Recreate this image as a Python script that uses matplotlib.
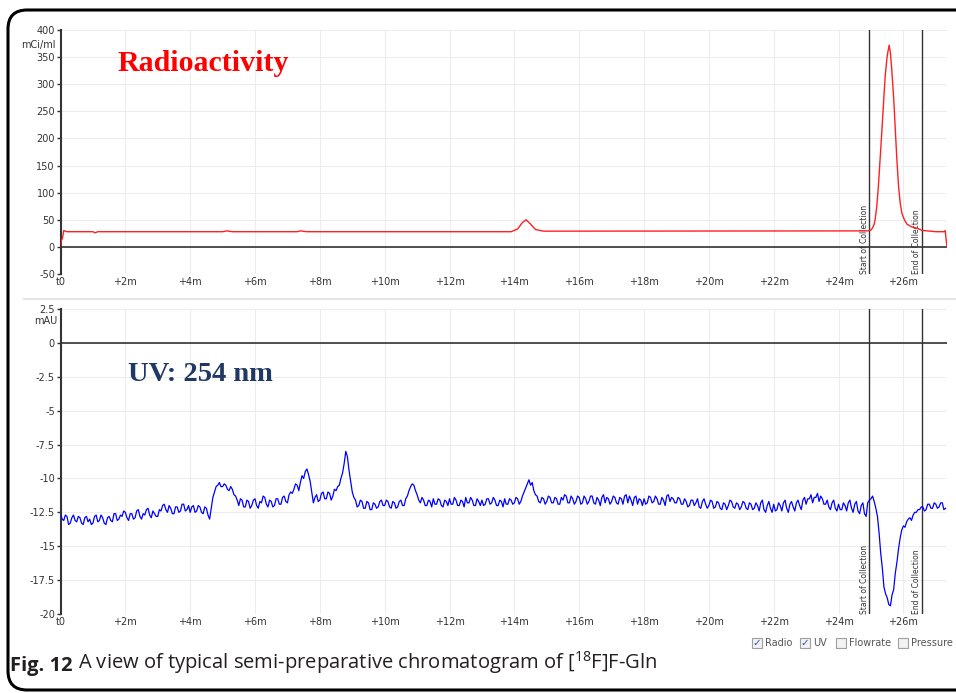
import matplotlib
matplotlib.use("Agg")
import matplotlib.pyplot as plt
from matplotlib.patches import FancyBboxPatch, Rectangle
from matplotlib.text import Annotation
import numpy as np

plt.rcParams['font.family'] = ['DejaVu Sans']
plt.rcParams['mathtext.fontset'] = 'custom'
plt.rcParams['mathtext.rm'] = 'Open Sans'
plt.rcParams['mathtext.it'] = 'Open Sans:italic'

# radioactivity trace (min, mCi/ml)
radio_t = [0, 0.03, 0.06, 0.1, 0.2, 1.0, 1.07, 1.15, 5.0, 5.13, 5.3, 7.3, 7.4, 7.6,
           13.9, 14.1, 14.25, 14.36, 14.5, 14.65, 14.9, 24.9, 25.0, 25.05, 25.1,
           25.13, 25.18, 25.23, 25.28, 25.34, 25.39, 25.44, 25.5, 25.56, 25.6,
           25.64, 25.7, 25.75, 25.8, 25.85, 25.9, 25.95, 26.03, 26.11, 26.25,
           26.42, 26.57, 27.0, 27.25, 27.29, 27.34]
radio_v = [0, 12, 16, 30, 28, 28, 26, 28, 28, 29.5, 28, 28, 29.5, 28,
           28, 33, 45, 50, 42, 32, 29, 29.5, 31, 35, 42,
           51, 75, 113, 160, 217, 268, 316, 352, 372, 358,
           328, 275, 217, 160, 113, 82, 63, 50, 42, 37,
           34.5, 30.5, 28, 28, 30, 2]

# UV trace, one value every 0.05 min from t0 (mAU)
uv_v = [
    -12.6, -13.0, -13.1, -12.7, -12.8, -13.4, -13.3, -12.9, -12.7, -13.1, -13.2, -12.8, -12.9, -13.3, -13.4, -12.9, -12.8, -13.2, -13.0, -13.4,
    -13.3, -12.8, -12.7, -13.2, -13.1, -12.7, -12.9, -13.3, -13.4, -12.9, -12.8, -13.1, -13.2, -12.6, -12.6, -13.1, -13.0, -12.7, -12.8, -12.4,
    -12.5, -12.9, -13.1, -12.6, -12.6, -13.0, -12.9, -12.4, -12.3, -12.8, -13.0, -12.6, -12.7, -12.3, -12.2, -12.7, -12.9, -12.4, -12.6, -12.8,
    -12.8, -12.3, -12.4, -12.0, -11.9, -12.3, -12.5, -12.0, -12.2, -12.6, -12.6, -12.1, -12.1, -12.5, -12.4, -11.9, -11.9, -12.4, -12.3, -12.0,
    -12.5, -12.1, -12.0, -12.5, -12.4, -12.0, -12.1, -12.5, -12.6, -12.1, -12.2, -12.7, -13.0, -12.2, -11.4, -11.0, -10.6, -10.5, -10.3, -10.6,
    -10.6, -10.4, -10.5, -10.8, -10.9, -10.6, -10.8, -11.2, -11.3, -11.6, -12.0, -11.5, -11.6, -12.1, -12.1, -11.6, -11.7, -12.2, -12.0, -11.6,
    -11.5, -12.0, -12.2, -11.7, -11.8, -11.3, -11.4, -11.9, -12.1, -11.6, -11.7, -12.1, -12.0, -11.5, -11.5, -11.9, -11.9, -11.4, -11.3, -11.7,
    -11.8, -11.2, -11.0, -11.1, -10.8, -10.4, -10.5, -10.9, -10.3, -9.8, -10.0, -9.5, -9.3, -9.7, -10.2, -11.0, -11.8, -11.4, -11.2, -11.7,
    -11.6, -11.1, -11.0, -11.5, -11.5, -11.0, -11.1, -11.6, -11.3, -10.8, -10.9, -10.6, -10.5, -10.0, -9.6, -8.9, -8.0, -8.4, -9.4, -10.2,
    -11.0, -11.4, -11.6, -12.1, -12.0, -11.6, -11.7, -12.2, -12.2, -11.7, -11.8, -12.3, -12.3, -11.8, -11.9, -12.2, -12.1, -11.7, -11.6, -12.0,
    -12.0, -11.6, -11.7, -12.1, -12.2, -11.7, -11.8, -12.2, -12.1, -11.7, -11.6, -12.0, -12.0, -11.5, -11.3, -10.9, -10.6, -10.4, -10.5, -10.9,
    -11.2, -11.6, -11.8, -11.4, -11.6, -12.0, -12.0, -11.6, -11.7, -12.1, -11.5, -11.9, -11.9, -11.5, -11.6, -12.0, -12.1, -11.6, -11.7, -12.0,
    -11.5, -11.9, -11.9, -11.4, -11.6, -12.0, -12.0, -11.6, -11.7, -12.1, -11.4, -11.8, -11.8, -11.4, -11.6, -12.0, -12.0, -11.5, -11.7, -12.0,
    -11.6, -12.0, -11.9, -11.5, -11.5, -11.9, -11.8, -11.4, -11.6, -12.0, -12.0, -11.6, -11.7, -12.1, -11.5, -11.9, -11.9, -11.5, -11.6, -11.9,
    -11.8, -11.4, -11.5, -11.9, -11.7, -11.3, -11.0, -10.7, -10.4, -10.1, -10.5, -10.3, -10.9, -11.2, -11.3, -11.7, -11.8, -11.4, -11.5, -11.9,
    -11.7, -11.3, -11.4, -11.8, -11.8, -11.4, -11.5, -11.9, -11.9, -11.4, -11.6, -11.2, -11.3, -11.8, -11.8, -11.3, -11.5, -11.9, -11.7, -11.3,
    -11.4, -11.9, -11.8, -11.3, -11.5, -11.9, -11.7, -11.3, -11.3, -11.8, -11.9, -11.4, -11.6, -12.0, -11.4, -11.2, -11.8, -11.4, -11.5, -11.9,
    -11.7, -11.3, -11.4, -11.8, -11.9, -11.4, -11.5, -11.9, -11.3, -11.2, -11.8, -11.3, -11.6, -12.0, -11.4, -11.3, -11.9, -11.5, -11.6, -12.0,
    -11.5, -11.9, -11.8, -11.3, -11.4, -11.8, -11.7, -11.3, -11.5, -11.9, -11.9, -11.4, -11.6, -12.0, -11.3, -11.2, -11.7, -11.4, -11.5, -11.8,
    -11.8, -11.4, -11.5, -11.9, -11.9, -11.5, -11.7, -12.1, -12.0, -11.6, -11.6, -12.0, -11.8, -11.5, -12.1, -12.2, -11.7, -11.5, -11.9, -12.2,
    -12.0, -11.6, -11.7, -12.2, -12.1, -11.7, -11.8, -12.2, -12.3, -11.8, -11.9, -12.3, -12.0, -11.6, -11.7, -12.1, -12.2, -11.8, -11.9, -12.3,
    -12.1, -11.7, -11.8, -12.2, -12.3, -11.8, -11.9, -12.3, -12.2, -11.8, -12.0, -12.4, -11.8, -11.6, -12.3, -12.5, -12.0, -11.7, -12.2, -12.5,
    -11.9, -12.4, -12.3, -11.8, -12.0, -12.4, -11.8, -11.6, -12.2, -12.5, -11.9, -11.7, -12.1, -12.4, -11.8, -11.6, -12.0, -12.3, -11.6, -11.4,
    -11.9, -11.5, -11.5, -11.2, -11.8, -11.4, -11.4, -11.1, -11.7, -11.3, -11.5, -11.9, -11.9, -11.6, -12.1, -12.3, -11.8, -11.6, -12.2, -12.4,
    -11.9, -12.3, -12.3, -11.8, -12.0, -12.4, -11.8, -11.6, -12.2, -12.5, -11.9, -11.7, -12.4, -12.6, -12.0, -11.8, -12.6, -12.8, -11.8, -11.6,
    -11.5, -11.3, -11.7, -12.2, -12.8, -14.0, -15.5, -16.6, -18.0, -18.5, -18.8, -19.3, -19.4, -18.6, -18.2, -17.0, -16.2, -15.2, -14.4, -13.8,
    -13.5, -13.6, -13.2, -13.0, -12.9, -13.1, -12.7, -12.5, -12.5, -12.3, -12.3, -12.1, -12.1, -12.4, -12.3, -11.9, -11.9, -12.2, -12.2, -11.8,
    -11.9, -12.2, -12.1, -11.8, -11.8, -12.3, -12.2,
]
uv_t = np.arange(len(uv_v)) * 0.05

x_ticks = list(range(0, 27, 2))
x_labels = ["t0"] + ["+%dm" % m for m in x_ticks[1:]]
radio_ticks = list(range(-50, 401, 50))
uv_ticks = [2.5, 0, -2.5, -5, -7.5, -10, -12.5, -15, -17.5, -20]
uv_labels = ["2.5", "0", "-2.5", "-5", "-7.5", "-10", "-12.5", "-15", "-17.5", "-20"]
start_coll = 24.95
end_coll = 26.56
XMAX = 27.33

W, H = 956, 693
fig = plt.figure(figsize=(W / 100, H / 100), dpi=100)


def px(x0, y0, x1, y1):
    return [x0 / W, 1 - y1 / H, (x1 - x0) / W, (y1 - y0) / H]


def style(ax, ticks, labels):
    ax.set_xlim(0, XMAX)
    ax.set_xticks(x_ticks)
    ax.set_xticklabels(x_labels)
    ax.set_yticks(ticks)
    ax.set_yticklabels(labels)
    for s in ["top", "right", "bottom"]:
        ax.spines[s].set_visible(False)
    ax.spines["left"].set_color("#333333")
    ax.spines["left"].set_linewidth(1.5)
    ax.grid(True, color="#ededed", lw=0.8)
    ax.set_axisbelow(True)
    ax.tick_params(axis="x", length=0, pad=2, labelsize=7, labelcolor="#333333")
    ax.tick_params(axis="y", length=3, width=1, pad=1, labelsize=7,
                   labelcolor="#333333", color="#333333")
    ax.axhline(0, color="#333333", lw=1.2, zorder=3)
    for xc, lab in [(start_coll, "Start of Collection"), (end_coll, "End of Collection")]:
        ax.axvline(xc, color="#333333", lw=1, zorder=3)
        ax.text(xc - 0.02, ax.get_ylim()[0], lab, rotation=90, ha="right",
                va="bottom", fontsize=5.5, color="#333333")


ax1 = fig.add_axes(px(60.5, 30, 946.5, 274))
ax1.plot(radio_t, radio_v, color="#ff2020", lw=1, zorder=4)
ax1.set_ylim(-50, 400)
style(ax1, radio_ticks, [str(v) for v in radio_ticks])
ax1.text(0.064, 0.862, "Radioactivity", transform=ax1.transAxes, color="#ff0000",
         fontsize=21.5, fontweight="bold", family="Liberation Serif", va="center")

ax2 = fig.add_axes(px(60.5, 309, 946.5, 614))
ax2.plot(uv_t, uv_v, color="#0000ff", lw=0.9, zorder=4)
ax2.set_ylim(-20, 2.5)
style(ax2, uv_ticks, uv_labels)
ax2.text(0.076, 0.785, "UV: 254 nm", transform=ax2.transAxes, color="#1f3864",
         fontsize=20.5, fontweight="bold", family="Liberation Serif", va="center")

fig.text(56 / W, 1 - 45 / H, "mCi/ml", ha="right", va="center", fontsize=7, color="#333333")
fig.text(57 / W, 1 - 321 / H, "mAU", ha="right", va="center", fontsize=7, color="#333333")

# separator band between the two panels
fig.add_artist(Rectangle((23 / W, 1 - 300 / H), 1, 2.5 / H, transform=fig.transFigure,
                         color="#e6e6e6", lw=0))

# outer rounded frame
fig.add_artist(FancyBboxPatch((8 / W, 3 / H), 1.2, (H - 13) / H, transform=fig.transFigure,
                              boxstyle="round,pad=0,rounding_size=0.02",
                              fc="none", ec="black", lw=2.2, mutation_aspect=W / H))

# checkbox legend
boxes = [(752, "Radio", True), (800, "UV", True), (836, "Flowrate", False), (898, "Pressure", False)]
for bx, lab, on in boxes:
    fig.add_artist(Rectangle((bx / W, 1 - 648 / H), 10 / W, 10 / H, transform=fig.transFigure,
                             fc="#f2f2f2", ec="#a0a0a0", lw=0.8))
    if on:
        fig.text((bx + 5) / W, 1 - 643 / H, "\u2713", ha="center", va="center",
                 fontsize=7.5, color="#2050c0", fontweight="bold")
    fig.text((bx + 13) / W, 1 - 643 / H, lab, ha="left", va="center", fontsize=7, color="#555555")

# caption
t1 = fig.text(10 / W, 1 - 671 / H, "Fig. 12", fontsize=14.5, fontweight="bold",
              family="Open Sans", va="baseline", color="#231f20")
fig.add_artist(Annotation(
    "A view of typical semi-preparative chromatogram of [$^{18}$F]F-Gln",
    xy=(1, 0), xycoords=t1, xytext=(4, 0), textcoords="offset points",
    fontsize=14.5, family="Open Sans", color="#231f20", va="bottom"))

fig.savefig("out.png", dpi=100)
